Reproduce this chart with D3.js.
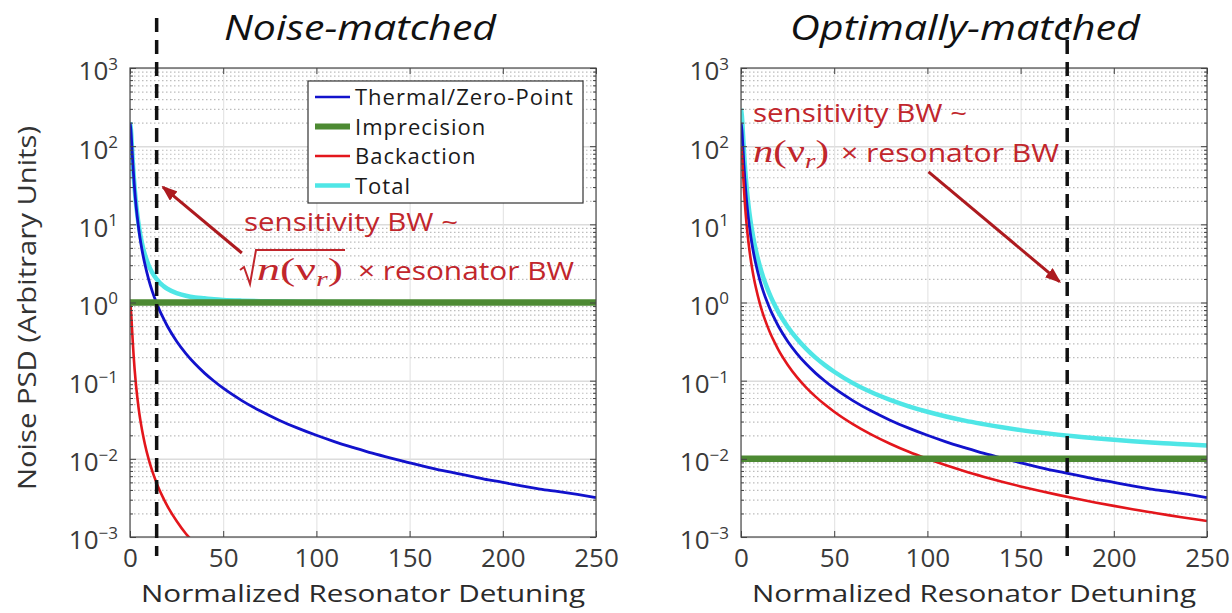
<!DOCTYPE html>
<html><head><meta charset="utf-8">
<script src="https://cdn.jsdelivr.net/npm/d3@7"></script>
<style>body{margin:0;background:#fff}svg{display:block}</style>
</head><body>
<svg id="c" width="1232" height="613"></svg>
<script>
// ---------- data ----------
const detuning = [0,0.5,1,1.5,2,3,4,5,6,7,8,10,12,14,16,18,20,25,30,35,40,45,50,60,70,80,90,100,110,120,130,140,150,160,170,180,190,200,210,220,230,240,250];

// Noise-matched panel
const thermalNoiseMatched = [200,160,100,61.5,40,20,11.8,7.7,5.4,4.0,3.08,1.98,1.38,1.02,0.78,0.62,0.50,0.32,0.222,0.163,0.125,0.099,0.080,0.0556,0.0408,0.0312,0.0247,0.020,0.0165,0.0139,0.0118,0.0102,0.0089,0.0078,0.0069,0.0062,0.0055,0.0050,0.0045,0.0041,0.0038,0.0035,0.0032];
const backactionNoiseMatched = [1.0,0.8,0.5,0.31,0.2,0.1,0.059,0.038,0.027,0.02,0.0154,0.0099,0.0069,0.0051,0.0039,0.0031,0.0025,0.0016,0.0011,0.00082,0.00062,0.00049,0.0004,0.00028,0.0002,0.00016,0.00012,0.0001,8.3e-5,6.9e-5,5.9e-5,5.1e-5,4.4e-5,3.9e-5,3.5e-5,3.1e-5,2.8e-5,2.5e-5,2.3e-5,2.1e-5,1.9e-5,1.7e-5,1.6e-5];
const totalNoiseMatched = [201,162,101.5,62.8,41.2,21.1,12.9,8.74,6.43,5.02,4.10,2.99,2.39,2.03,1.78,1.62,1.50,1.32,1.22,1.16,1.13,1.10,1.08,1.056,1.041,1.031,1.025,1.02,1.017,1.014,1.012,1.010,1.009,1.008,1.007,1.006,1.006,1.005,1.005,1.004,1.004,1.004,1.003];
const imprecisionX = [0, 250];
const imprecisionNoiseMatched = [1, 1];

// Optimally-matched panel
const thermalOptimallyMatched = [200,160,100,61.5,40,20,11.8,7.7,5.4,4.0,3.08,1.98,1.38,1.02,0.78,0.62,0.50,0.32,0.222,0.163,0.125,0.099,0.080,0.0556,0.0408,0.0312,0.0247,0.020,0.0165,0.0139,0.0118,0.0102,0.0089,0.0078,0.0069,0.0062,0.0055,0.0050,0.0045,0.0041,0.0038,0.0035,0.0032];
const backactionOptimallyMatched = [100,80,50,30.8,20,10,5.9,3.85,2.7,2.0,1.54,0.99,0.69,0.51,0.39,0.31,0.249,0.16,0.111,0.0816,0.0625,0.0494,0.040,0.0278,0.0204,0.0156,0.0123,0.0100,0.00826,0.00694,0.00592,0.0051,0.00444,0.0039,0.00346,0.00309,0.00277,0.0025,0.00227,0.00207,0.00189,0.00174,0.0016];
const totalOptimallyMatched = [300,240,150,92.3,60,30,17.7,11.5,8.12,6.01,4.63,2.98,2.08,1.54,1.18,0.935,0.758,0.489,0.343,0.255,0.197,0.158,0.130,0.093,0.071,0.0569,0.047,0.040,0.0348,0.0308,0.0278,0.0253,0.0233,0.0217,0.0204,0.0193,0.0183,0.0175,0.0168,0.0162,0.0157,0.0152,0.0148];
const imprecisionOptimallyMatched = [0.01, 0.01];

const sensitivityBW = [14.3, 175];
const xTicks = [0, 50, 100, 150, 200, 250];
const yTicks = [1e-3, 1e-2, 1e-1, 1e0, 1e1, 1e2, 1e3];
const titles = ["Noise-matched", "Optimally-matched"];
const legendLabels = ["Thermal/Zero-Point", "Imprecision", "Backaction", "Total"];
const xLabel = "Normalized Resonator Detuning";
const yLabel = "Noise PSD (Arbitrary Units)";
const annotLine1 = "sensitivity BW ~";
const annotLine2 = "\u00d7 resonator BW";

// ---------- styling ----------
const FONT = "'Open Sans', sans-serif";
const C = {thermal:"#1212cc", imprecision:"#4d8a33", backaction:"#e3161c", total:"#4fe6e6", annot:"#c1262c", arrow:"#ad1a1f"};
const W = 466, TOP = 68, BOTTOM = 537;

const svg = d3.select("#c");
const defs = svg.append("defs");
defs.append("marker").attr("id","ah").attr("markerUnits","userSpaceOnUse")
  .attr("markerWidth",16).attr("markerHeight",12).attr("refX",14).attr("refY",6).attr("orient","auto")
  .append("path").attr("d","M0,0 L16,6 L0,12 z").attr("fill",C.arrow);

const panels = [
  {left:130, thermal:thermalNoiseMatched, back:backactionNoiseMatched, total:totalNoiseMatched, imp:imprecisionNoiseMatched},
  {left:741, thermal:thermalOptimallyMatched, back:backactionOptimallyMatched, total:totalOptimallyMatched, imp:imprecisionOptimallyMatched}
];

panels.forEach((p, i) => {
  const g = svg.append("g").attr("transform", `translate(${p.left},0)`);
  const x = d3.scaleLinear([0, 250], [0, W]);
  const y = d3.scaleLog([1e-3, 1e3], [BOTTOM, TOP]);

  defs.append("clipPath").attr("id","clip"+i).append("rect")
    .attr("x",0).attr("y",TOP).attr("width",W).attr("height",BOTTOM-TOP);

  const minor = [];
  for (let e = -3; e < 3; e++) for (let k = 2; k <= 9; k++) minor.push(k * Math.pow(10, e));

  // grids
  const gm = g.append("g").call(d3.axisLeft(y).tickValues(minor).tickSize(-W).tickFormat(""));
  gm.select(".domain").remove();
  gm.selectAll("line").attr("stroke","#bdbdbd").attr("stroke-width",1.2).attr("stroke-dasharray","1.5,2.5");
  const gM = g.append("g").call(d3.axisLeft(y).tickValues(yTicks).tickSize(-W).tickFormat(""));
  gM.select(".domain").remove();
  gM.selectAll("line").attr("stroke","#dcdcdc").attr("stroke-width",1.5);
  const gx = g.append("g").attr("transform",`translate(0,${BOTTOM})`)
    .call(d3.axisBottom(x).tickValues(xTicks).tickSize(-(BOTTOM-TOP)).tickFormat(""));
  gx.select(".domain").remove();
  gx.selectAll("line").attr("stroke","#e0e0e0").attr("stroke-width",1);

  // series
  const line = d3.line().x(d => x(d[0])).y(d => y(d[1])).curve(d3.curveMonotoneX);
  const plot = g.append("g").attr("clip-path",`url(#clip${i})`);
  const zip = arr => detuning.map((d, j) => [d, arr[j]]);
  plot.append("path").attr("d", line(zip(p.total))).attr("fill","none").attr("stroke",C.total).attr("stroke-width",4.5);
  plot.append("path").attr("d", line(zip(p.thermal))).attr("fill","none").attr("stroke",C.thermal).attr("stroke-width",2.8);
  plot.append("path").attr("d", line(zip(p.back))).attr("fill","none").attr("stroke",C.backaction).attr("stroke-width",2.6);
  plot.append("path").attr("d", line(imprecisionX.map((d, j) => [d, p.imp[j]]))).attr("fill","none").attr("stroke",C.imprecision).attr("stroke-width",6.5);

  // box
  g.append("rect").attr("x",0).attr("y",TOP).attr("width",W).attr("height",BOTTOM-TOP)
    .attr("fill","none").attr("stroke","#4a4a4a").attr("stroke-width",1.2);

  // axes ticks
  const styleAx = (sel) => { sel.select(".domain").remove(); sel.selectAll("line").attr("stroke","#444"); };
  const ab = g.append("g").attr("transform",`translate(0,${BOTTOM})`)
    .call(d3.axisBottom(x).tickValues(xTicks).tickSizeInner(-6).tickSizeOuter(0).tickPadding(12));
  styleAx(ab);
  ab.selectAll("text").attr("font-family",FONT).attr("font-size",26).attr("fill","#3a3a3a");
  const at = g.append("g").attr("transform",`translate(0,${TOP})`)
    .call(d3.axisTop(x).tickValues(xTicks).tickSize(-6).tickFormat(""));
  styleAx(at);

  const al = g.append("g").call(d3.axisLeft(y).tickValues(yTicks).tickSize(-6).tickPadding(12).tickFormat(() => ""));
  styleAx(al);
  al.selectAll(".tick text").attr("font-family",FONT).attr("font-size",26).attr("fill","#3a3a3a").attr("dy","0.46em")
    .each(function(d) {
      const t = d3.select(this);
      const e = Math.round(Math.log10(d));
      t.append("tspan").text("10");
      t.append("tspan").attr("dy","-0.62em").attr("font-size",17).text(String(e).replace("-","\u2212"));
    });
  const alm = g.append("g").call(d3.axisLeft(y).tickValues(minor).tickSize(-3).tickFormat(""));
  styleAx(alm);
  const ar = g.append("g").attr("transform",`translate(${W},0)`).call(d3.axisRight(y).tickValues(yTicks).tickSize(-6).tickFormat(""));
  styleAx(ar);
  const arm = g.append("g").attr("transform",`translate(${W},0)`).call(d3.axisRight(y).tickValues(minor).tickSize(-3).tickFormat(""));
  styleAx(arm);

  // x label
  g.append("text").attr("x", W/2).attr("y", 602).attr("text-anchor","middle")
    .attr("font-family",FONT).attr("font-size",24).attr("fill","#2a2a2a")
    .attr("textLength", 444).attr("lengthAdjust","spacingAndGlyphs").text(xLabel);

  // title
  g.append("text").attr("x", i === 0 ? 230 : 224).attr("y", 40).attr("text-anchor","middle")
    .attr("font-family",FONT).attr("font-style","italic").attr("font-size",35).attr("fill","#111")
    .attr("textLength", i === 0 ? 272 : 350).attr("lengthAdjust","spacingAndGlyphs").text(titles[i]);

  // sensitivity BW dashed line
  g.append("line").attr("x1", x(sensitivityBW[i])).attr("x2", x(sensitivityBW[i]))
    .attr("y1", 18).attr("y2", 556).attr("stroke","#111").attr("stroke-width",3.5).attr("stroke-dasharray","14,8");

  // annotations
  const a = i === 0
    ? {tx: 114, ty1: 231, ty2: 280, serifX: 127, serifW: 86, timesX: 228, timesW: 216, sqrt: true,
       arrow: [x(60), y(4.3), x(17.7), y(30)]}
    : {tx: 12, ty1: 122, ty2: 162, serifX: 12, serifW: 76, timesX: 100, timesW: 218, sqrt: false,
       arrow: [x(100.6), y(47), x(170.9), y(1.85)]};
  g.append("text").attr("x", a.tx).attr("y", a.ty1).attr("font-family",FONT).attr("font-size",26)
    .attr("fill",C.annot).attr("textLength",214).attr("lengthAdjust","spacingAndGlyphs").text(annotLine1);
  const st = g.append("text").attr("x", a.serifX).attr("y", a.ty2).attr("font-family","'Liberation Serif', serif")
    .attr("font-size",32).attr("fill",C.annot).attr("textLength",a.serifW).attr("lengthAdjust","spacingAndGlyphs");
  st.append("tspan").attr("font-style","italic").text("n");
  st.append("tspan").text("(\u03bd");
  st.append("tspan").attr("font-style","italic").attr("font-size",21).attr("dy",6).text("r");
  st.append("tspan").attr("dy",-6).text(")");
  if (a.sqrt) {
    const bx = a.serifX - 17, top = a.ty2 - 30;
    g.append("path").attr("d", `M${bx},${a.ty2-10} L${bx+4},${a.ty2-13} L${bx+10},${a.ty2+4} L${bx+16},${top} L${a.serifX + a.serifW + 2},${top}`)
      .attr("fill","none").attr("stroke",C.annot).attr("stroke-width",2);
  }
  g.append("text").attr("x", a.timesX).attr("y", a.ty2).attr("font-family",FONT).attr("font-size",26)
    .attr("fill",C.annot).attr("textLength",a.timesW).attr("lengthAdjust","spacingAndGlyphs").text(annotLine2);
  g.append("line").attr("x1",a.arrow[0]).attr("y1",a.arrow[1]).attr("x2",a.arrow[2]).attr("y2",a.arrow[3])
    .attr("stroke",C.arrow).attr("stroke-width",3).attr("marker-end","url(#ah)");

  // legend
  if (i === 0) {
    const lg = g.append("g");
    lg.append("rect").attr("x",178).attr("y",81).attr("width",275).attr("height",122)
      .attr("fill","#fff").attr("stroke","#333").attr("stroke-width",1.2);
    const keys = [["thermal",2.6],["imprecision",6],["backaction",2.6],["total",4.5]];
    legendLabels.forEach((lab, k) => {
      const cy = 97 + k * 29.5;
      lg.append("line").attr("x1",185).attr("x2",220).attr("y1",cy).attr("y2",cy)
        .attr("stroke",C[keys[k][0]]).attr("stroke-width",keys[k][1]);
      lg.append("text").attr("x",225).attr("y",cy+8).attr("font-family",FONT).attr("font-size",22)
        .attr("letter-spacing",1).attr("fill","#1a1a1a").text(lab);
    });
  }
});

// y label
svg.append("text").attr("transform","translate(36,308) rotate(-90)").attr("text-anchor","middle")
  .attr("font-family",FONT).attr("font-size",25).attr("fill","#333")
  .attr("textLength",364).attr("lengthAdjust","spacingAndGlyphs").text(yLabel);
</script>
</body></html>
